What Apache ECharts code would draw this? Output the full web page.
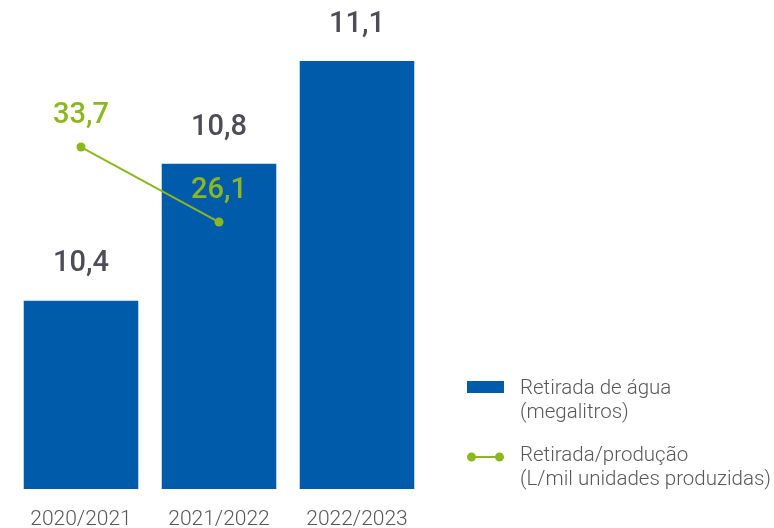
<!DOCTYPE html>
<html>
<head>
<meta charset="utf-8">
<script src="https://cdn.jsdelivr.net/npm/echarts@6/dist/echarts.min.js"></script>
<style>
html,body{margin:0;padding:0;background:#fff;}
#chart{width:774px;height:528px;}
</style>
</head>
<body>
<div id="chart"></div>
<script>
const categories = ['2020/2021', '2021/2022', '2022/2023'];
const waterValues = [10.4, 10.8, 11.1];
const ratioValues = [33.7, 26.1, null];
const waterName = 'Retirada de água';
const waterUnit = '(megalitros)';
const ratioName = 'Retirada/produção';
const ratioUnit = '(L/mil unidades produzidas)';

const BLUE = '#005baa';
const GREEN = '#8cb81d';
const DARK = '#4d4d55';
const fmt = v => String(v.value === undefined ? v : v.value).replace('.', ',');

const chart = echarts.init(document.getElementById('chart'));
chart.setOption({
  animation: false,
  grid: { left: 12, width: 414, top: 20, bottom: 39, containLabel: false, outerBoundsMode: 'none' },
  xAxis: {
    type: 'category',
    data: categories,
    axisLine: { show: false },
    axisTick: { show: false },
    axisLabel: { margin: 20, color: '#58585a', fontSize: 21, fontWeight: 300, fontFamily: 'Roboto' }
  },
  yAxis: [
    { type: 'value', min: 9.85, max: 11.22, show: false, splitLine: { show: false } },
    { type: 'value', min: -0.95, max: 46.57, show: false, splitLine: { show: false } }
  ],
  legend: {
    orient: 'vertical',
    left: 467,
    top: 377,
    padding: 0,
    itemWidth: 37,
    itemHeight: 48,
    itemGap: 19,
    selectedMode: false,
    textStyle: { fontFamily: 'Roboto', fontWeight: 300, fontSize: 20.5, color: '#58585a', lineHeight: 24, padding: [0, 0, 0, 11] },
    formatter: name => name === waterName ? name + '\n' + waterUnit : name + '\n' + ratioUnit,
    data: [
      { name: waterName, icon: 'path://M0,0M0,4h37v12h-37ZM37,48', itemStyle: { color: BLUE } },
      { name: ratioName, icon: 'path://M0,0M4,12h29v2h-29ZM0,13a4.5,4.5 0 1,1 9,0a4.5,4.5 0 1,1 -9,0ZM28,13a4.5,4.5 0 1,1 9,0a4.5,4.5 0 1,1 -9,0ZM37,48', itemStyle: { color: GREEN, borderWidth: 0 } }
    ]
  },
  series: [
    {
      name: waterName,
      type: 'bar',
      data: waterValues,
      barCategoryGap: '17%',
      itemStyle: { color: BLUE },
      label: {
        show: true, position: 'top', distance: 22,
        color: DARK, fontSize: 29, fontWeight: 500, fontFamily: 'Roboto',
        formatter: fmt
      }
    },
    {
      name: ratioName,
      type: 'line',
      yAxisIndex: 1,
      data: ratioValues,
      symbol: 'circle',
      symbolSize: 9,
      lineStyle: { color: GREEN, width: 2 },
      itemStyle: { color: GREEN },
      label: {
        show: true, position: 'top', distance: 12,
        color: GREEN, fontSize: 29, fontWeight: 500, fontFamily: 'Roboto',
        formatter: fmt
      }
    }
  ]
});
</script>
</body>
</html>
